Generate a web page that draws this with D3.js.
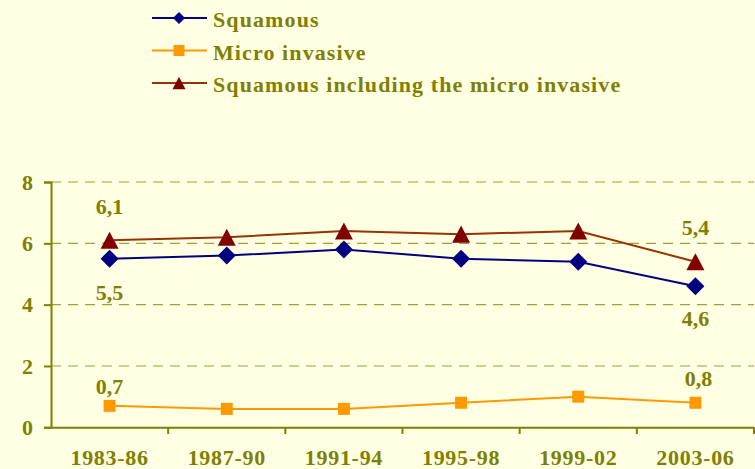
<!DOCTYPE html>
<html><head><meta charset="utf-8">
<script src="https://cdn.jsdelivr.net/npm/d3@7"></script>
<style>body{margin:0;background:#FFFFE3;}svg{display:block;}</style>
</head><body>
<svg id="c" width="755" height="469"></svg>
<script>
const categories = ["1983-86","1987-90","1991-94","1995-98","1999-02","2003-06"];
const squamous = [5.5, 5.6, 5.8, 5.5, 5.4, 4.6];
const micro = [0.7, 0.6, 0.6, 0.8, 1.0, 0.8];
const squamousIncl = [6.1, 6.2, 6.4, 6.3, 6.4, 5.4];
const yTicks = [0, 2, 4, 6, 8];
const seriesNames = ["Squamous", "Micro invasive", "Squamous including the micro invasive"];

const olive = "#808000";
const font = "'Liberation Serif','Times New Roman',serif";
const svg = d3.select("#c");
svg.append("rect").attr("width",755).attr("height",469).attr("fill","#FFFFE3");

const x = d3.scaleBand().domain(categories).range([51, 754]);
const y = d3.scaleLinear().domain([0, 8]).range([427.3, 182]);
const cx = d => x(d) + x.bandwidth()/2;

// marker shapes (w = full width)
const shapes = {
  diamond: w => { const h = w/2; return `M0,${-h}L${h},0L0,${h}L${-h},0Z`; },
  square: w => { const h = w/2; return `M${-h},${-h}H${h}V${h}H${-h}Z`; },
  triangle: w => { const h = w/2; return `M0,${-h*0.95}L${h},${h*0.95}L${-h},${h*0.95}Z`; }
};

// gridlines
svg.append("g").selectAll("line").data(yTicks.filter(t => t > 0)).join("line")
  .attr("x1", 51).attr("x2", 754).attr("y1", d => y(d)).attr("y2", d => y(d))
  .attr("stroke", "#A0A040").attr("stroke-width", 1.2).attr("stroke-dasharray", "10,7");

// y axis
const ya = svg.append("g").attr("transform","translate(51,0)")
  .call(d3.axisLeft(y).tickValues(yTicks).tickSize(7).tickPadding(11).tickFormat(d3.format("d")));
ya.select(".domain").attr("stroke", olive).attr("stroke-width", 2);
ya.selectAll(".tick line").attr("stroke", olive).attr("stroke-width", 2);
ya.selectAll("text").attr("fill", olive).attr("font-family", font).attr("font-weight","bold").attr("font-size", 22);

// x axis
const xa = svg.append("g").attr("transform","translate(0,427.3)")
  .call(d3.axisBottom(x).tickSize(0).tickPadding(0));
xa.select(".domain").attr("stroke", olive).attr("stroke-width", 2);
xa.selectAll("text").attr("fill", olive).attr("font-family", font).attr("font-weight","bold")
  .attr("font-size", 22).attr("letter-spacing", 0.7).attr("dy", null).attr("y", 38);
// category boundary ticks
const bounds = categories.slice(1).map(c => x(c)).concat([x(categories[categories.length-1]) + x.bandwidth()]);
svg.append("g").selectAll("line").data(bounds).join("line")
  .attr("x1", d => d).attr("x2", d => d).attr("y1", 427.3).attr("y2", 434)
  .attr("stroke", olive).attr("stroke-width", 2);

const line = d3.line().x((d,i) => cx(categories[i])).y(d => y(d));
const series = [
  {name: seriesNames[0], values: squamous, line: "#000080", marker: "#000080", shape: "diamond", w: 18, lw: 12},
  {name: seriesNames[1], values: micro, line: "#FF9900", marker: "#FF9900", shape: "square", w: 12, lw: 11},
  {name: seriesNames[2], values: squamousIncl, line: "#993300", marker: "#800000", shape: "triangle", w: 18, lw: 13}
];

series.forEach(s => {
  svg.append("path").datum(s.values).attr("d", line).attr("fill","none")
    .attr("stroke", s.line).attr("stroke-width", 2);
  svg.append("g").selectAll("path").data(s.values).join("path")
    .attr("d", shapes[s.shape](s.w))
    .attr("transform", (d,i) => `translate(${cx(categories[i])},${y(d)})`)
    .attr("fill", s.marker);
});

// data labels
const fmt = v => d3.format(".1f")(v).replace(".", ",");
const labels = [
  {i: 0, v: squamousIncl[0], dy: -26},
  {i: 0, v: squamous[0], dy: 41},
  {i: 0, v: micro[0], dy: -12},
  {i: 5, v: squamousIncl[5], dy: -27},
  {i: 5, v: squamous[5], dy: 40},
  {i: 5, v: micro[5], dy: -17, dx: 3}
];
svg.append("g").selectAll("text").data(labels).join("text")
  .attr("x", d => cx(categories[d.i]) + (d.dx || 0)).attr("y", d => y(d.v) + d.dy)
  .attr("text-anchor","middle").attr("fill", olive).attr("font-family", font)
  .attr("font-weight","bold").attr("font-size", 22).text(d => fmt(d.v));

// legend
const lg = svg.append("g");
series.forEach((s, k) => {
  const yy = 18 + k * 32.5;
  lg.append("line").attr("x1", 152).attr("x2", 207).attr("y1", yy).attr("y2", yy)
    .attr("stroke", s.line).attr("stroke-width", 2);
  lg.append("path").attr("d", shapes[s.shape](s.lw))
    .attr("transform", `translate(179,${yy})`).attr("fill", s.marker);
  lg.append("text").attr("x", 213).attr("y", yy + 9).attr("fill", olive)
    .attr("font-family", font).attr("font-weight","bold").attr("font-size", 22)
    .attr("letter-spacing", 1.1).text(s.name);
});
</script>
</body></html>
